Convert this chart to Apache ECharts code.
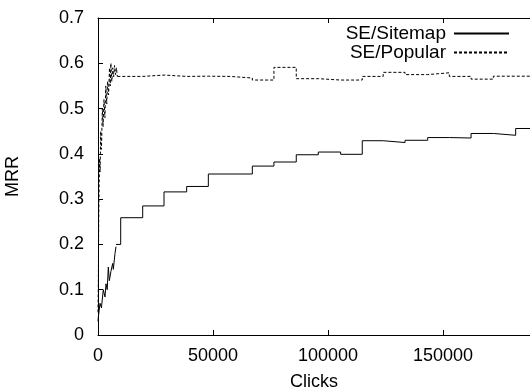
<!DOCTYPE html>
<html>
<head>
<meta charset="utf-8">
<script src="https://cdn.jsdelivr.net/npm/echarts@6/dist/echarts.min.js"></script>
<style>
  html, body { margin: 0; padding: 0; background: #fff; }
  #chart { width: 530px; height: 391px; }
</style>
</head>
<body>
<div id="chart"></div>
<script>
// early noisy part of each curve (clicks, MRR)
const sitemapRampClicks = [0, 150, 870, 1500, 2300, 3040, 3480, 4000, 4490, 4930, 5600, 6380, 6670, 7390, 7826]
const sitemapRampMRR = [0.03, 0.04, 0.07, 0.06, 0.1, 0.084, 0.113, 0.1, 0.15, 0.12, 0.14, 0.158, 0.145, 0.18, 0.195]
const popularRampClicks = [0, 150, 300, 500, 700, 900, 1200, 1500, 1900, 2200, 2600, 3000, 3400, 3800, 4200, 4600, 5000, 5300, 5600, 6000, 6400, 6800, 7200, 7600, 8000, 8400]
const popularRampMRR = [0.05, 0.12, 0.25, 0.33, 0.39, 0.36, 0.45, 0.41, 0.5, 0.46, 0.52, 0.48, 0.55, 0.51, 0.56, 0.53, 0.59, 0.55, 0.6, 0.56, 0.59, 0.57, 0.595, 0.575, 0.59, 0.571]

// stepped part: clicks at which each plateau starts
const stepClicks = [9870, 19430, 28700, 38560, 47970, 57400, 67100, 76500, 86200, 95800, 105500, 114900, 124000, 133500, 143350, 152750, 162200, 171900, 181600]
const sitemapStepMRR = [0.259, 0.285, 0.316, 0.328, 0.3555, 0.3555, 0.373, 0.382, 0.398, 0.404, 0.399, 0.429, 0.425, 0.43, 0.436, 0.435, 0.445, 0.441, 0.456]
const popularStepMRR = [0.571, 0.574, 0.571, 0.5715, 0.571, 0.5675, 0.563, 0.591, 0.566, 0.563, 0.563, 0.571, 0.58, 0.575, 0.579, 0.571, 0.565, 0.5715, 0.5715]

const xMax = 187830
const yTicks = ['0', '0.1', '0.2', '0.3', '0.4', '0.5', '0.6', '0.7']

const font = 'Liberation Sans, Arial, sans-serif'
const pairs = (xs, ys) => xs.map((x, i) => [x, ys[i]])

const sitemapSteps = [[7826, 0.2]].concat(pairs(stepClicks, sitemapStepMRR))
sitemapSteps.push([xMax, sitemapStepMRR[sitemapStepMRR.length - 1]])
const popularSteps = [[8400, 0.571]].concat(pairs(stepClicks, popularStepMRR))
popularSteps.push([xMax, popularStepMRR[popularStepMRR.length - 1]])

const solid = { color: '#000', width: 1, type: 'solid' }
const dashed = { color: '#000', width: 1, type: [3, 2] }

const myChart = echarts.init(document.getElementById('chart'))
const option = {
  animation: false,
  grid: { left: 98, right: 0, top: 18, bottom: 56, outerBoundsMode: 'none', containLabel: false },
  legend: {
    data: ['SE/Sitemap', 'SE/Popular'],
    orient: 'vertical',
    align: 'right',
    right: 15,
    top: 19,
    itemWidth: 55,
    itemHeight: 14,
    itemGap: 0,
    selectedMode: false,
    itemStyle: { color: 'transparent', borderWidth: 0, opacity: 0 },
    textStyle: { fontFamily: font, fontSize: 19, color: '#000', lineHeight: 14, padding: [0, 3, 0, 0] }
  },
  xAxis: [
    {
      type: 'value',
      min: 0,
      max: xMax,
      interval: 50000,
      name: 'Clicks',
      nameLocation: 'middle',
      nameGap: 38,
      nameTextStyle: { fontFamily: font, fontSize: 18, color: '#000' },
      axisLine: { lineStyle: { color: '#000', width: 1 } },
      axisTick: { inside: true, length: 5, lineStyle: { color: '#000' } },
      axisLabel: {
        fontFamily: font,
        fontSize: 18,
        color: '#000',
        margin: 12,
        showMaxLabel: false,
        formatter: (v) => String(Math.round(v))
      },
      splitLine: { show: false }
    },
    {
      type: 'value',
      position: 'top',
      min: 0,
      max: xMax,
      interval: 50000,
      axisLine: { lineStyle: { color: '#000', width: 1 } },
      axisTick: { inside: true, length: 5, lineStyle: { color: '#000' } },
      axisLabel: { show: false },
      splitLine: { show: false }
    }
  ],
  yAxis: {
    type: 'value',
    min: 0,
    max: 0.7,
    interval: 0.1,
    name: 'MRR',
    nameLocation: 'middle',
    nameGap: 76,
    nameTextStyle: { fontFamily: font, fontSize: 18, color: '#000' },
    axisLine: { show: true, lineStyle: { color: '#000', width: 1 } },
    axisTick: { show: true, inside: true, length: 5, lineStyle: { color: '#000' } },
    axisLabel: {
      fontFamily: font,
      fontSize: 18,
      color: '#000',
      margin: 14,
      formatter: (v) => yTicks[Math.round(v * 10)]
    },
    splitLine: { show: false }
  },
  series: [
    {
      name: 'SE/Sitemap',
      type: 'line',
      symbol: 'none',
      lineStyle: solid,
      data: sitemapSteps,
      step: 'end'
    },
    {
      name: 'SE/Popular',
      type: 'line',
      symbol: 'none',
      lineStyle: dashed,
      data: popularSteps,
      step: 'end'
    },
    {
      name: 'SE/Sitemap',
      type: 'line',
      symbol: 'none',
      lineStyle: solid,
      data: pairs(sitemapRampClicks, sitemapRampMRR)
    },
    {
      name: 'SE/Popular',
      type: 'line',
      symbol: 'none',
      lineStyle: dashed,
      data: pairs(popularRampClicks, popularRampMRR)
    }
  ]
}
myChart.setOption(option)
</script>
</body>
</html>
